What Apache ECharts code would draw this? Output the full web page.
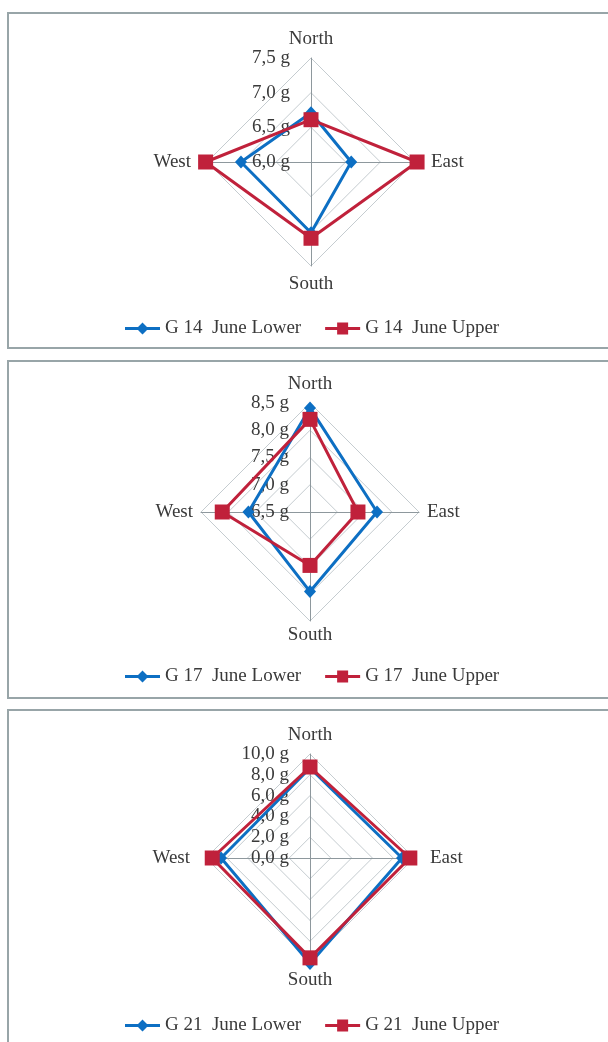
<!DOCTYPE html>
<html>
<head>
<meta charset="utf-8">
<script src="https://cdn.jsdelivr.net/npm/echarts@6/dist/echarts.min.js"></script>
<style>
html,body{margin:0;padding:0;background:#fff;}
#c{width:608px;height:1042px;}
</style>
</head>
<body>
<div id="c"></div>
<script>
// Axis order (counter-clockwise from top): North, West, South, East
var directions = ['North', 'West', 'South', 'East'];

var g14Lower = [6.71, 7.01, 7.02, 6.58];
var g14Upper = [6.61, 7.52, 7.10, 7.53];
var g17Lower = [8.41, 7.63, 7.96, 7.73];
var g17Upper = [8.20, 8.11, 7.48, 7.38];
var g21Lower = [8.65, 8.55, 10.15, 8.85];
var g21Upper = [8.75, 9.40, 9.60, 9.60];

var ranges = [[6.0, 7.5, 3], [6.5, 8.5, 4], [0, 10, 5]];
var names = [['G 14  June Lower', 'G 14  June Upper'],
             ['G 17  June Lower', 'G 17  June Upper'],
             ['G 21  June Lower', 'G 21  June Upper']];

var FONT = '"Liberation Serif", "DejaVu Serif", serif';
var BLUE = '#0d6fc3';
var RED = '#c0213b';
var TXT = '#3a3a3a';

var centers = [[311, 162], [310, 512], [310, 858]];
var radii = [104, 109, 104];
var nameGaps = [9, 5, 9];
var namePads = [[0, 7], [0, 3], [0, 7]];
var legendTops = [314, 662, 1011];

function fmt(v) { return v.toFixed(1).replace('.', ',') + ' g'; }

var radars = [], legends = [], series = [];
var dataSets = [[g14Lower, g14Upper], [g17Lower, g17Upper], [g21Lower, g21Upper]];

var blueIcon = 'path://M0,4.5L13,4.5L17.5,0L22,4.5L35,4.5L35,7.5L22,7.5L17.5,12L13,7.5L0,7.5Z';
var redIcon = 'path://M0,4.5L12,4.5L12,0L23,0L23,4.5L35,4.5L35,7.5L23,7.5L23,12L12,12L12,7.5L0,7.5Z';

for (var p = 0; p < 3; p++) {
  var r = ranges[p];
  radars.push({
    center: centers[p],
    radius: radii[p],
    startAngle: 90,
    splitNumber: r[2],
    shape: 'polygon',
    nameGap: nameGaps[p],
    axisName: {
      color: TXT, fontFamily: FONT, fontSize: 19, padding: namePads[p]
    },
    indicator: directions.map(function (d, i) {
      var ind = { name: d, min: r[0], max: r[1] };
      if (i === 0) {
        ind.axisLabel = {
          show: true, color: TXT, fontFamily: FONT, fontSize: 19,
          margin: 21, formatter: function (v) { return fmt(v); }
        };
      }
      return ind;
    }),
    axisLabel: { show: false },
    axisTick: { show: false },
    axisLine: { lineStyle: { color: '#8e989d', width: 1 } },
    splitLine: { lineStyle: { color: '#c5ccd0', width: 1 } },
    splitArea: { show: false }
  });
  legends.push({
    top: legendTops[p],
    left: 120,
    itemGap: 24,
    itemWidth: 35,
    itemHeight: 12,
    textStyle: { fontFamily: FONT, fontSize: 19, color: TXT },
    data: [{ name: names[p][0], icon: blueIcon }, { name: names[p][1], icon: redIcon }]
  });
  series.push({
    type: 'radar',
    radarIndex: p,
    symbol: 'none',
    data: [{
      name: names[p][0], value: dataSets[p][0],
      symbol: 'diamond', symbolSize: [12, 13],
      itemStyle: { color: BLUE },
      lineStyle: { color: BLUE, width: 3 }
    }, {
      name: names[p][1], value: dataSets[p][1],
      symbol: 'rect', symbolSize: 15,
      itemStyle: { color: RED },
      lineStyle: { color: RED, width: 3 }
    }]
  });
}

var chart = echarts.init(document.getElementById('c'), null, { renderer: 'canvas' });
chart.setOption({
  animation: false,
  backgroundColor: '#fff',
  color: [BLUE, RED],
  radar: radars,
  legend: legends,
  series: series,
  graphic: [
    { type: 'rect', shape: { x: 8, y: 13, width: 700, height: 335 }, style: { fill: 'none', stroke: '#98a5a8', lineWidth: 2 }, z: -1 },
    { type: 'rect', shape: { x: 8, y: 361, width: 700, height: 337 }, style: { fill: 'none', stroke: '#98a5a8', lineWidth: 2 }, z: -1 },
    { type: 'rect', shape: { x: 8, y: 710, width: 700, height: 400 }, style: { fill: 'none', stroke: '#98a5a8', lineWidth: 2 }, z: -1 }
  ]
});
</script>
</body>
</html>
